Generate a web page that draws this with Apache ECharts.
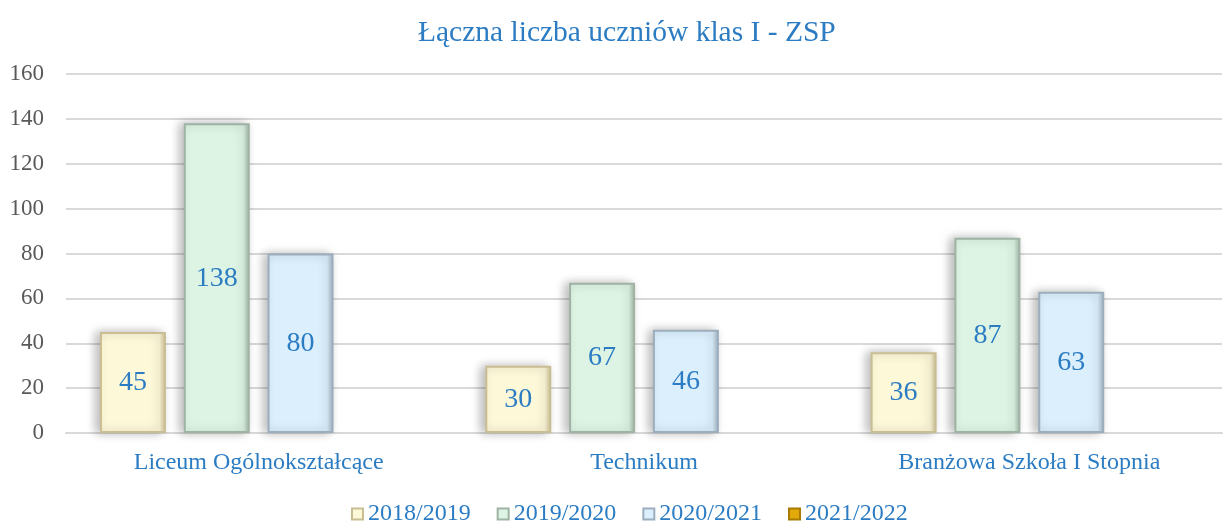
<!DOCTYPE html>
<html>
<head>
<meta charset="utf-8">
<script src="https://cdn.jsdelivr.net/npm/echarts@6/dist/echarts.min.js"></script>
<style>
  html, body { margin: 0; padding: 0; background: #fff; }
  #main { width: 1223px; height: 522px; }
</style>
</head>
<body>
<div id="main"></div>
<script>
  // dane
  var categories = ['Liceum Ogólnokształcące', 'Technikum', 'Branżowa Szkoła I Stopnia'];
  var years = ['2018/2019', '2019/2020', '2020/2021', '2021/2022'];
  var v2018 = [45, 30, 36];
  var v2019 = [138, 67, 87];
  var v2020 = [80, 46, 63];
  var v2021 = [null, null, null];
  var yTicks = [0, 20, 40, 60, 80, 100, 120, 140, 160];

  var serif = '"Liberation Serif", "DejaVu Serif", serif';
  var blue = '#2b7cc3';

  // kolory słupków: wypełnienie, ramka
  var fills = ['#fdf8d8', '#ddf4e4', '#dbeffc', '#e3a90a'];
  var borders = ['#c9bd92', '#9fb3a4', '#9caebd', '#a87a00'];

  var myChart = echarts.init(document.getElementById('main'));

  function makeSeries(name, data, i) {
    return {
      name: name,
      type: 'bar',
      data: data,
      barWidth: 66,
      barGap: '27%',
      itemStyle: {
        color: {
          type: 'linear', x: 0, y: 0, x2: 1, y2: 0,
          colorStops: [
            {offset: 0, color: fills[i]},
            {offset: 0.9, color: fills[i]},
            {offset: 1, color: borders[i]}
          ]
        },
        borderColor: borders[i],
        borderWidth: 2,
        shadowColor: 'rgba(0,0,0,0.28)',
        shadowBlur: 10,
        shadowOffsetX: -4,
        shadowOffsetY: 0
      },
      label: {
        show: true,
        position: 'inside',
        color: blue,
        fontFamily: serif,
        fontSize: 28
      }
    };
  }

  var option = {
    animation: false,
    title: {
      text: 'Łączna liczba uczniów klas I - ZSP',
      left: 413,
      top: 13,
      textStyle: {
        color: blue,
        fontFamily: serif,
        fontSize: 29.5,
        fontWeight: 'normal'
      }
    },
    legend: {
      data: years,
      top: 497,
      left: 346,
      icon: 'rect',
      itemWidth: 11,
      itemHeight: 11,
      itemGap: 26,
      textStyle: {
        color: blue,
        fontFamily: serif,
        fontSize: 24
      }
    },
    grid: {
      left: 66,
      right: 1,
      top: 74,
      bottom: 89,
      containLabel: false
    },
    xAxis: {
      type: 'category',
      data: categories,
      axisLine: { lineStyle: { color: '#d9d9d9', width: 2 } },
      axisTick: { show: false },
      axisLabel: {
        color: blue,
        fontFamily: serif,
        fontSize: 24,
        margin: 18
      }
    },
    yAxis: {
      type: 'value',
      min: yTicks[0],
      max: yTicks[yTicks.length - 1],
      interval: 20,
      axisLine: { show: false },
      axisTick: { show: false },
      axisLabel: {
        color: '#595959',
        fontFamily: serif,
        fontSize: 23,
        margin: 22
      },
      splitLine: { lineStyle: { color: '#d9d9d9', width: 2 } }
    },
    series: [
      makeSeries(years[0], v2018, 0),
      makeSeries(years[1], v2019, 1),
      makeSeries(years[2], v2020, 2),
      makeSeries(years[3], v2021, 3)
    ]
  };

  myChart.setOption(option);
</script>
</body>
</html>
